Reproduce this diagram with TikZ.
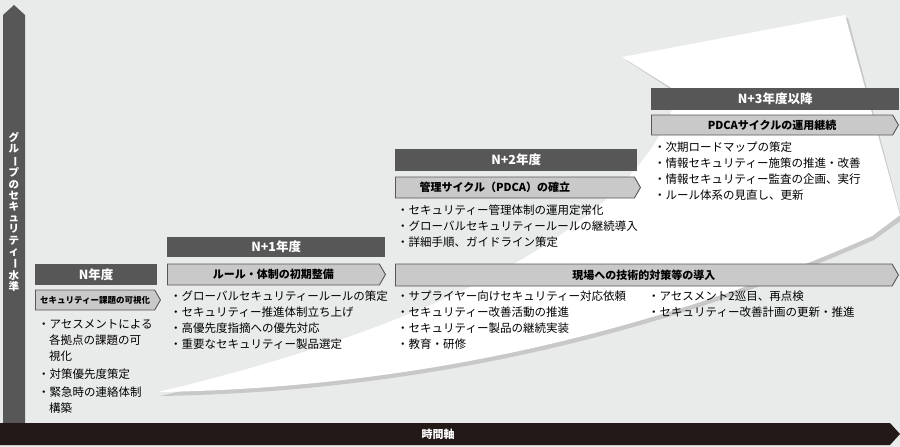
\documentclass[tikz,border=0pt]{standalone}
\usepackage{fontspec}
\setmainfont{Noto Sans CJK JP}
\usetikzlibrary{shapes.symbols}
\definecolor{bg}{HTML}{E9EBEA}
\definecolor{hdr}{HTML}{575757}
\definecolor{sub}{HTML}{C9C9C9}
\definecolor{bar}{HTML}{231A17}
\newcommand{\vl}{\rotatebox[origin=c]{-90}{ー}}
\tikzset{
  hdrbox/.style={fill=hdr,text=white,font=\bfseries\fontsize{12.5}{12.5}\selectfont,anchor=north west,inner sep=0pt},
  subbox/.style={shape=signal,signal to=east,signal pointer angle=120,fill=sub,draw=hdr,line width=0.9pt,font=\bfseries\fontsize{11}{11}\selectfont,anchor=west,inner sep=0pt},
  bul/.style={anchor=north west,align=left,inner sep=0pt,font=\fontsize{11.5}{16}\selectfont}
}
\begin{document}
\begin{tikzpicture}[x=1pt,y=-1pt]
\useasboundingbox (0,0) rectangle (900,447);
\fill[bg] (0,0) rectangle (900,447);
% swoosh shadow + body
\fill[gray!60,opacity=0.6] (160,396) .. controls (420,392) and (660,335) .. (874,240) -- (902,220) -- (848,18) -- (626,60) -- (681,96) .. controls (644,234) and (424,334) .. (160,396) -- cycle;
\fill[white] (158,392) .. controls (420,388) and (660,330) .. (872,236) -- (900,215) -- (845,15) -- (622,57) -- (678,92) .. controls (640,230) and (420,330) .. (158,392) -- cycle;
% vertical axis
\fill[hdr] (3,440) -- (3,15) -- (14,5) -- (25,15) -- (25,440) -- cycle;
\node[text=white,font=\bfseries\fontsize{10.5}{11.2}\selectfont,align=center,inner sep=0pt] (vaxis) at (14,212)
 {グ\\ル\\\vl\\プ\\の\\セ\\キ\\ュ\\リ\\テ\\ィ\\\vl\\水\\準};
% horizontal axis
\fill[bar] (0,423) -- (890,423) -- (900,434) -- (890,445) -- (0,445) -- cycle;
\node[text=white,font=\bfseries\fontsize{11}{11}\selectfont] (haxis) at (438,434) {時間軸};
% N
\node[hdrbox,minimum width=122pt,minimum height=21pt] (h0) at (35,264) {N年度};
\node[subbox,minimum width=125pt,minimum height=20pt,font=\bfseries\fontsize{8.5}{8.5}\selectfont] (s0) at (35,300) {セキュリティー課題の可視化};
\node[bul] (b0) at (38,319) {・アセスメントによる\\\hspace{11pt}各拠点の課題の可\\\hspace{11pt}視化\\[2pt]・対策優先度策定\\[2pt]・緊急時の連絡体制\\\hspace{11pt}構築};
% N+1
\node[hdrbox,minimum width=218pt,minimum height=20pt] (h1) at (167,237) {N+1年度};
\node[subbox,minimum width=218pt,minimum height=21pt] (s1) at (167,274.5) {ルール・体制の初期整備};
\node[bul] (b1) at (170,291) {・グローバルセキュリティールールの策定\\・セキュリティー推進体制立ち上げ\\・高優先度指摘への優先対応\\・重要なセキュリティー製品選定};
% N+2
\node[hdrbox,minimum width=242pt,minimum height=22pt] (h2) at (395,149) {N+2年度};
\node[subbox,minimum width=245pt,minimum height=21pt] (s2) at (395,187.5) {\hspace{-40pt}管理サイクル（PDCA）の確立};
\node[bul] (b2) at (397,205) {・セキュリティー管理体制の運用定常化\\・グローバルセキュリティールールの継続導入\\・詳細手順、ガイドライン策定};
% N+3
\node[hdrbox,minimum width=248pt,minimum height=22pt] (h3) at (651,88) {N+3年度以降};
\node[subbox,minimum width=247pt,minimum height=20pt] (s3) at (651,125) {PDCAサイクルの運用継続};
\node[bul] (b3) at (654,142) {・次期ロードマップの策定\\・情報セキュリティー施策の推進・改善\\・情報セキュリティー監査の企画、実行\\・ルール体系の見直し、更新};
% field measures
\node[subbox,minimum width=503pt,minimum height=22pt] (s4) at (395,275) {現場への技術的対策等の導入};
\node[bul] (b4) at (397,291) {・サプライヤー向けセキュリティー対応依頼\\・セキュリティー改善活動の推進\\・セキュリティー製品の継続実装\\・教育・研修};
\node[bul] (b5) at (648,291) {・アセスメント2巡目、再点検\\・セキュリティー改善計画の更新・推進};
\end{tikzpicture}
\end{document}
